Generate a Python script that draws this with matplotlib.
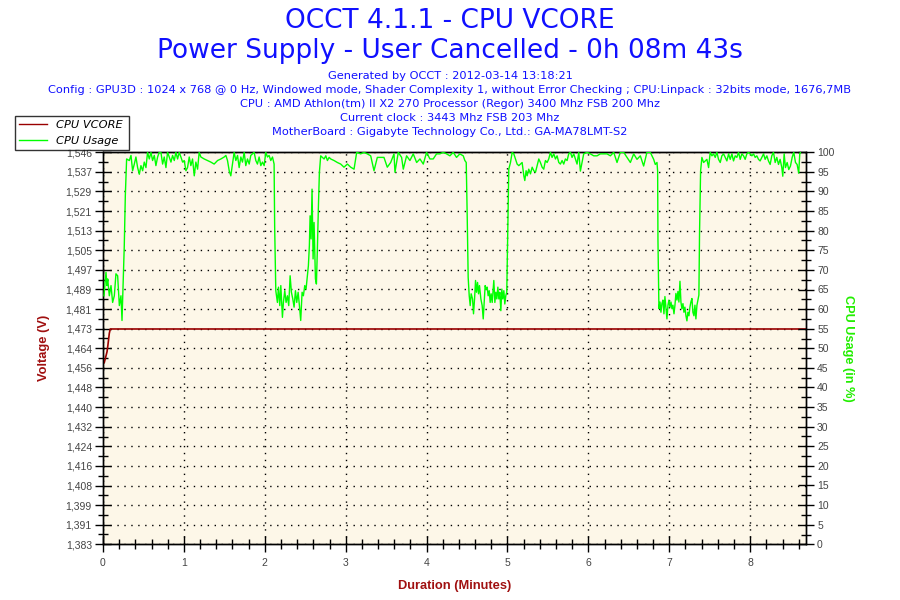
import matplotlib
matplotlib.use("Agg")
import matplotlib.pyplot as plt
from matplotlib.ticker import FixedLocator, MultipleLocator, FixedFormatter
from matplotlib.lines import Line2D

# ---------------- data ----------------
TITLE_LINES = ["OCCT 4.1.1 - CPU VCORE",
               "Power Supply - User Cancelled - 0h 08m 43s"]
INFO_LINES = [
    "Generated by OCCT : 2012-03-14 13:18:21",
    "Config : GPU3D : 1024 x 768 @ 0 Hz, Windowed mode, Shader Complexity 1, without Error Checking ; CPU:Linpack : 32bits mode, 1676,7MB",
    "CPU : AMD Athlon(tm) II X2 270 Processor (Regor) 3400 Mhz FSB 200 Mhz",
    "Current clock : 3443 Mhz FSB 203 Mhz",
    "MotherBoard : Gigabyte Technology Co., Ltd.: GA-MA78LMT-S2",
]
SERIES_NAMES = ["CPU VCORE", "CPU Usage"]

VOLT_TICK_LABELS = ["1,383", "1,391", "1,399", "1,408", "1,416", "1,424", "1,432",
                    "1,440", "1,448", "1,456", "1,464", "1,473", "1,481", "1,489",
                    "1,497", "1,505", "1,513", "1,521", "1,529", "1,537", "1,546"]
VOLT_MIN, VOLT_MAX = 1.3832, 1.5456
USAGE_TICKS = [0, 5, 10, 15, 20, 25, 30, 35, 40, 45, 50, 55, 60, 65, 70, 75, 80, 85, 90, 95, 100]
MINUTE_TICKS = [0, 1, 2, 3, 4, 5, 6, 7, 8]
DURATION_MAX = 8.69

VCORE_MIN = [0.0, 0.016, 0.035, 0.05, 0.06, 0.078, 0.09, 8.69]
VCORE_V = [1.458, 1.4585, 1.461, 1.463, 1.4655, 1.4706, 1.4724, 1.4724]

USAGE_MIN = [
    # start, low
    0.012, 0.037, 0.049, 0.058, 0.078, 0.099, 0.119, 0.140, 0.160, 0.181, 0.202, 0.222, 0.235, 0.251,
    0.263, 0.276, 0.292,
    # high
    0.325, 0.346, 0.366, 0.387, 0.407, 0.428, 0.449, 0.469, 0.490, 0.510, 0.531, 0.551, 0.572, 0.593,
    0.613, 0.634, 0.654, 0.675, 0.695, 0.716, 0.737, 0.757, 0.778, 0.798, 0.819, 0.840, 0.860, 0.881,
    0.901, 0.922, 0.942, 0.963, 0.984, 1.004, 1.025, 1.045, 1.066, 1.086, 1.107, 1.128, 1.148, 1.169,
    1.189, 1.210, 1.251, 1.292, 1.333, 1.374, 1.416, 1.457, 1.498, 1.519, 1.539, 1.560, 1.580, 1.601,
    1.621, 1.642, 1.663, 1.683, 1.704, 1.724, 1.745, 1.765, 1.786, 1.807, 1.827, 1.868, 1.889, 1.909,
    1.930, 1.951, 1.971, 1.992, 2.012, 2.033, 2.053, 2.074, 2.095, 2.115,
    # drop, low
    2.122, 2.136, 2.156, 2.169, 2.185, 2.198, 2.218, 2.230, 2.247, 2.263, 2.280, 2.296, 2.313, 2.329,
    2.346, 2.362, 2.379, 2.395, 2.412, 2.428, 2.444, 2.461, 2.477, 2.494, 2.510, 2.527, 2.539, 2.551,
    2.560, 2.572, 2.584, 2.597, 2.609, 2.626, 2.638, 2.650, 2.663, 2.675, 2.691,
    # high
    2.712, 2.733, 2.754, 2.774, 2.795, 2.815, 2.856, 2.897, 2.938, 2.979, 3.021, 3.062, 3.103, 3.136,
    3.185, 3.226, 3.267, 3.309, 3.350, 3.391, 3.432, 3.473, 3.514, 3.556, 3.597, 3.609, 3.650, 3.691,
    3.712, 3.753, 3.794, 3.835, 3.877, 3.918, 3.959, 4.000, 4.041, 4.082, 4.123, 4.164, 4.206, 4.247,
    4.288, 4.329, 4.370, 4.411, 4.453, 4.473, 4.490,
    # drop, low
    4.502, 4.514, 4.527, 4.539, 4.551, 4.568, 4.580, 4.593, 4.605, 4.617, 4.630, 4.642, 4.654, 4.671,
    4.687, 4.700, 4.712, 4.724, 4.737, 4.749, 4.761, 4.774, 4.786, 4.798, 4.811, 4.823, 4.831, 4.844,
    4.856, 4.868, 4.881, 4.893, 4.905, 4.918, 4.930, 4.942, 4.955, 4.967, 4.979, 4.991,
    # rise, high
    5.004, 5.016, 5.037, 5.058, 5.078, 5.099, 5.119, 5.140, 5.160, 5.181, 5.202, 5.214, 5.230, 5.243,
    5.263, 5.284, 5.305, 5.325, 5.346, 5.366, 5.387, 5.407, 5.428, 5.448, 5.469, 5.490, 5.510, 5.531,
    5.551, 5.572, 5.593, 5.613, 5.634, 5.654, 5.675, 5.695, 5.716, 5.737, 5.757, 5.778, 5.798, 5.819,
    5.840, 5.860, 5.881, 5.901, 5.942, 5.984, 6.025, 6.066, 6.107, 6.148, 6.189, 6.230, 6.272, 6.313,
    6.354, 6.395, 6.436, 6.477, 6.519, 6.560, 6.601, 6.642, 6.683, 6.724, 6.765, 6.807, 6.827, 6.848,
    6.856,
    # drop, low
    6.860, 6.872, 6.885, 6.897, 6.909, 6.922, 6.934, 6.946, 6.959, 6.971, 6.984, 6.996, 7.008, 7.021,
    7.033, 7.045, 7.058, 7.070, 7.082, 7.095, 7.107, 7.119, 7.132, 7.144, 7.156, 7.169, 7.181, 7.193,
    7.206, 7.218, 7.230, 7.243, 7.255, 7.267, 7.280, 7.292, 7.305, 7.317, 7.329, 7.342, 7.354, 7.366,
    # rise, high
    7.374, 7.387, 7.403, 7.424, 7.444, 7.465, 7.486, 7.506, 7.527, 7.547, 7.568, 7.588, 7.609, 7.630,
    7.650, 7.671, 7.691, 7.712, 7.733, 7.753, 7.774, 7.794, 7.815, 7.835, 7.856, 7.877, 7.897, 7.918,
    7.938, 7.959, 7.979, 8.000, 8.021, 8.041, 8.062, 8.082, 8.103, 8.123, 8.144, 8.165, 8.185, 8.206,
    8.226, 8.247, 8.267, 8.288, 8.309, 8.329, 8.350, 8.370, 8.391, 8.403, 8.420, 8.436, 8.457, 8.477,
    8.498, 8.519, 8.539, 8.560, 8.580, 8.600, 8.613, 8.621,
]
USAGE_PCT = [
    63.4, 69.4, 66.0, 67.7, 63.4, 66.0, 61.7, 63.4, 69.0, 68.5, 60.9, 63.4, 57.1, 67.7,
    76.2, 89.0, 98.3,
    97.9, 99.2, 95.3, 97.0, 98.8, 96.1, 94.4, 96.6, 95.3, 97.5, 96.1, 100, 98.3, 100,
    97.9, 99.2, 96.6, 98.8, 100, 100, 97.0, 98.8, 96.1, 100, 98.8, 97.5, 99.2, 97.9,
    100, 98.3, 100, 98.8, 97.5, 97.9, 95.3, 96.1, 98.8, 96.6, 98.3, 94.0, 97.5, 95.7,
    100, 98.8, 98.3, 97.9, 97.5, 97.0, 97.9, 98.3, 98.8, 99.2, 97.9, 95.3, 94.0, 97.0,
    100, 97.9, 99.2, 96.1, 98.8, 97.5, 100, 96.6, 98.3, 97.0, 99.2, 100, 97.9, 97.0,
    98.8, 96.6, 97.5, 96.6, 100, 98.8, 99.2, 97.9, 98.8, 97.0,
    81.0, 64.7, 61.7, 65.6, 60.9, 66.0, 57.9, 61.7, 64.7, 61.7, 63.4, 60.9, 68.5, 64.3,
    62.6, 60.5, 64.7, 61.7, 64.3, 60.9, 57.1, 64.3, 63.4, 66.0, 65.1, 68.5, 71.1, 76.2,
    83.8, 77.9, 90.6, 72.8, 82.1, 67.7, 66.4, 75.3, 86.4, 94.9, 99.1,
    98.7, 98.3, 99.1, 97.9, 98.7, 98.3, 97.9, 97.4, 97.0, 96.2, 97.0, 96.2, 95.7, 100,
    99.6, 100, 99.6, 99.1, 95.3, 98.7, 98.7, 98.7, 96.2, 97.4, 99.6, 94.9, 100, 98.7,
    95.7, 99.1, 97.9, 99.6, 97.4, 98.3, 97.0, 100, 98.3, 98.3, 99.6, 99.6, 100, 99.6,
    99.1, 100, 98.7, 99.6, 99.1, 97.9, 97.4,
    83.8, 68.1, 63.4, 60.9, 63.9, 62.6, 58.8, 62.6, 67.3, 64.3, 66.8, 63.9, 66.0, 62.6,
    60.9, 57.5, 61.7, 66.0, 65.1, 65.6, 63.4, 64.7, 61.7, 63.9, 61.7, 65.1, 67.3, 61.7,
    64.3, 62.6, 65.6, 62.6, 64.3, 59.6, 65.1, 62.6, 64.7, 61.3, 63.4, 64.3,
    80.4, 95.7, 97.4, 100, 99.6, 98.3, 97.0, 96.6, 97.0, 97.4, 94.0, 92.8, 95.3, 94.0,
    95.7, 94.5, 96.2, 95.3, 94.9, 96.6, 98.3, 97.4, 96.2, 95.7, 97.9, 97.4, 98.3, 100,
    98.7, 99.6, 98.3, 99.1, 97.4, 97.0, 97.9, 97.0, 98.3, 97.9, 99.6, 100, 98.7, 99.6,
    98.3, 97.0, 100, 95.2, 99.6, 100, 99.6, 99.1, 99.1, 99.6, 99.6, 99.6, 99.1, 100,
    97.4, 100, 100, 98.7, 97.4, 99.6, 98.2, 99.1, 96.5, 100, 100, 98.2, 96.9, 97.4,
    95.2,
    77.6, 60.1, 61.8, 59.2, 61.4, 62.3, 58.8, 63.2, 60.1, 57.5, 61.0, 62.3, 60.5, 61.8,
    60.1, 61.0, 58.8, 61.0, 64.0, 62.3, 64.5, 61.8, 67.1, 61.8, 60.1, 61.4, 59.2, 60.5,
    58.3, 57.0, 59.2, 58.3, 60.5, 61.8, 62.7, 59.2, 58.3, 61.0, 57.5, 61.0, 62.3, 63.6,
    79.4, 95.2, 98.7, 97.4, 97.8, 98.2, 96.1, 100, 99.1, 99.6, 98.7, 100, 98.2, 97.4,
    99.1, 99.6, 98.7, 97.8, 99.6, 98.2, 99.6, 97.8, 99.1, 98.7, 100, 98.2, 99.6, 99.1,
    98.2, 99.6, 100, 99.6, 99.1, 99.6, 98.7, 99.1, 98.2, 97.8, 98.7, 99.6, 98.2, 99.1,
    97.8, 96.9, 99.1, 100, 97.4, 98.7, 96.9, 98.2, 96.1, 93.9, 99.6, 96.1, 97.4, 95.6,
    96.5, 98.7, 100, 97.4, 96.9, 94.7, 99.6, 100,
]

# ---------------- styling ----------------
BLUE = "#1010ff"
DARKRED = "#a01010"
LINE_RED = "#990000"
GREEN = "#00ff00"
LABEL_GREEN = "#22ee00"
BG = "#fdf7e8"
TICK_GRAY = "#444444"

fig = plt.figure(figsize=(9, 6), dpi=100)
fig.patch.set_facecolor("white")

ax = fig.add_axes([103 / 900, 1 - 544.3 / 600, 703 / 900, 392 / 600])
ax.set_facecolor(BG)
ax2 = ax.twinx()

l1, = ax.plot(VCORE_MIN, VCORE_V, color=LINE_RED, lw=1.2, zorder=3)
l2, = ax2.plot(USAGE_MIN, USAGE_PCT, color=GREEN, lw=1.0, zorder=3)

ax.set_xlim(0, DURATION_MAX)
ax.set_ylim(VOLT_MIN, VOLT_MAX)
ax2.set_ylim(0, 100)

step = (VOLT_MAX - VOLT_MIN) / (len(VOLT_TICK_LABELS) - 1)
volt_pos = [VOLT_MIN + i * step for i in range(len(VOLT_TICK_LABELS))]
volt_minor = [VOLT_MIN + (i + 0.5) * step for i in range(len(VOLT_TICK_LABELS) - 1)]
ax.yaxis.set_major_locator(FixedLocator(volt_pos))
ax.yaxis.set_major_formatter(FixedFormatter(VOLT_TICK_LABELS))
ax.yaxis.set_minor_locator(FixedLocator(volt_minor))
ax.xaxis.set_major_locator(FixedLocator(MINUTE_TICKS))
ax.xaxis.set_minor_locator(MultipleLocator(0.2))
ax2.yaxis.set_major_locator(FixedLocator(USAGE_TICKS))
ax2.yaxis.set_minor_locator(MultipleLocator(2.5))

for a in (ax, ax2):
    a.tick_params(which="major", direction="inout", length=12, width=1, color="black",
                  labelsize=7.5, labelcolor=TICK_GRAY, pad=2)
    a.tick_params(which="minor", direction="inout", length=7, width=1, color="black")
    for s in a.spines.values():
        s.set_color("black")
        s.set_linewidth(1)
ax.tick_params(axis="x", pad=4)
for lab in ax.get_xticklabels() + ax.get_yticklabels() + ax2.get_yticklabels():
    lab.set_fontfamily("Liberation Sans")

ax.grid(True, which="major", color="black", linestyle=(0, (1, 4)), linewidth=1.0)
ax.set_axisbelow(True)

ax.set_ylabel("Voltage (V)", color=DARKRED, fontsize=9.3, fontweight="bold",
              family="Liberation Sans")
ax.yaxis.set_label_coords((50 - 103) / 703, 0.5)
ax.set_xlabel("Duration (Minutes)", color=DARKRED, fontsize=9.3, fontweight="bold",
              family="Liberation Sans")
ax.xaxis.set_label_coords(0.5, (544.3 - 580) / 392)
ax2.set_ylabel("CPU Usage (in %)", color=LABEL_GREEN, fontsize=9.2, fontweight="bold",
               rotation=270, family="Liberation Sans", va="center")
ax2.yaxis.set_label_coords((848 - 103) / 703, 0.5)

# titles
fig.text(0.5, 1 - 21 / 600, TITLE_LINES[0], ha="center", va="center", color=BLUE,
         fontsize=19, family="DejaVu Sans")
fig.text(0.5, 1 - 51 / 600, TITLE_LINES[1], ha="center", va="center", color=BLUE,
         fontsize=19, family="DejaVu Sans")
for i, line in enumerate(INFO_LINES):
    fig.text(0.5, 1 - (76 + 14 * i) / 600, line, ha="center", va="center", color=BLUE,
             fontsize=8.2, family="DejaVu Sans")

# legend
handles = [Line2D([], [], color=LINE_RED, lw=1), Line2D([], [], color=GREEN, lw=1)]
leg = fig.legend(handles, SERIES_NAMES, loc="upper left",
                 bbox_to_anchor=(15 / 900, 1 - 151 / 600, 114 / 900, 35 / 600),
                 mode="expand", frameon=True, fancybox=False, borderaxespad=0,
                 prop={"style": "italic", "size": 8.2, "family": "DejaVu Sans"},
                 handlelength=2.45, handletextpad=0.85, labelspacing=0.55,
                 borderpad=0.32)
leg.get_frame().set_edgecolor("black")
leg.get_frame().set_linewidth(1)
leg.set_zorder(10)

fig.savefig("out.png", dpi=100)
